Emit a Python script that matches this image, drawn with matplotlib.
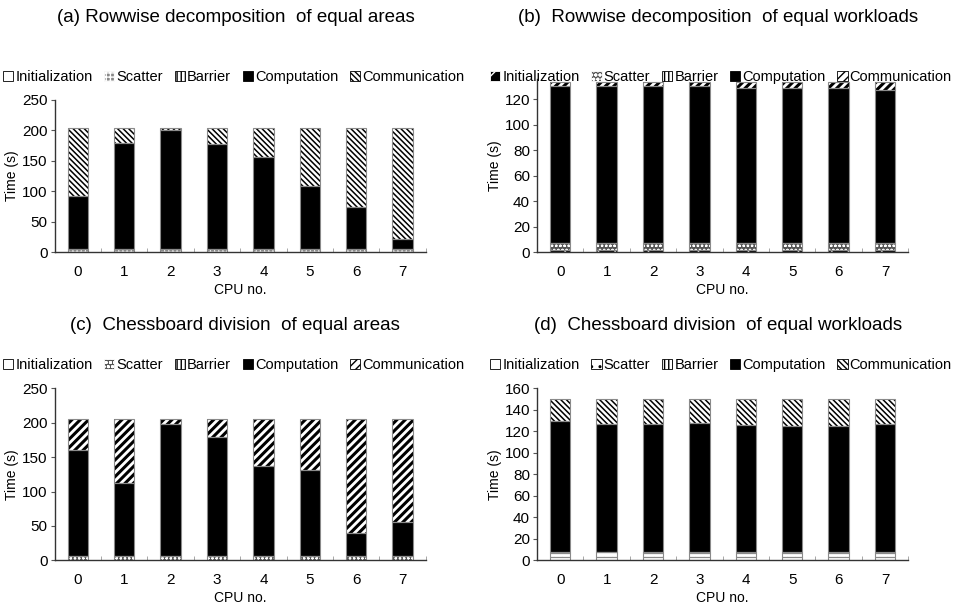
import numpy as np
import matplotlib
import matplotlib.pyplot as plt
from matplotlib.patches import Patch

plt.rcParams["font.family"] = ["Liberation Sans", "DejaVu Sans"]

cpus = [0, 1, 2, 3, 4, 5, 6, 7]
phases = ["Initialization", "Scatter", "Barrier", "Computation", "Communication"]

# (a) rowwise, equal areas
a_init = [0.5, 0.5, 0.5, 0.5, 0.5, 0.5, 0.5, 0.5]
a_scatter = [5, 5, 5, 4.5, 4.5, 4.5, 5, 5]
a_barrier = [0.5, 0.5, 0.5, 0.5, 0.5, 0.5, 0.5, 0.5]
a_comp = [86, 174, 195, 172.5, 151.5, 103.5, 69, 15]
a_comm = [111, 23, 2, 25, 46, 94, 128, 182]

# (b) rowwise, equal workloads
b_init = [1.5, 1.5, 1.5, 1.5, 1.5, 1.5, 1.5, 1.5]
b_scatter = [5.5, 5.5, 5.5, 5.5, 5.5, 5.5, 5.5, 5.5]
b_barrier = [0, 0, 0, 0, 0, 0, 0, 0]
b_comp = [123.5, 123.5, 123.5, 123.5, 122, 122, 122, 120]
b_comm = [2.5, 2.5, 2.5, 2.5, 4, 4, 4, 6]

# (c) chessboard, equal areas
c_init = [0.5, 0.5, 0.5, 0.5, 0.5, 0.5, 0.5, 0.5]
c_scatter = [5, 5, 5, 5, 5, 5, 5, 5]
c_barrier = [0, 0, 0, 0, 0, 0, 0, 0]
c_comp = [154.5, 107.5, 192.5, 174.5, 131.5, 126.5, 33.5, 49.5]
c_comm = [45, 92, 7, 25, 68, 73, 166, 150]

# (d) chessboard, equal workloads
d_init = [3, 3, 3, 3, 3, 3, 3, 3]
d_scatter = [4, 4.5, 4, 4, 4, 4, 4, 4]
d_barrier = [0.5, 0.5, 0.5, 0.5, 0.5, 0.5, 0.5, 0.5]
d_comp = [122.5, 119, 119.5, 120.5, 118.5, 117.5, 117.5, 119]
d_comm = [20, 23, 23, 22, 24, 25, 25, 23.5]

# face, hatch, hatch colour, hatch width for each phase
styles = {
    "a": [("white", None, "black", 0.8), ("#888888", "++++", "white", 0.8),
          ("white", "||||", "black", 1.0), ("black", None, "black", 0.8),
          ("white", "\\\\\\\\\\\\", "black", 1.1)],
    "b": [("black", "//", "white", 0.8), ("#555555", "oooo", "white", 0.6),
          ("white", "||||", "black", 1.0), ("black", None, "black", 0.8),
          ("white", "////", "black", 2.2)],
    "c": [("white", None, "black", 0.8), ("#555555", "oooo", "white", 0.6),
          ("white", "||||", "black", 1.0), ("black", None, "black", 0.8),
          ("white", "////", "black", 2.2)],
    "d": [("white", None, "black", 0.8), ("white", "..", "black", 0.8),
          ("white", "||||", "black", 1.0), ("black", None, "black", 0.8),
          ("white", "\\\\\\\\\\\\", "black", 1.1)],
}

# key, title, data, axes rect, ymax, yticks, legend anchor (figure), x-label row (px)
panels = [
    ("a", "(a) Rowwise decomposition  of equal areas", [a_init, a_scatter, a_barrier, a_comp, a_comm],
     [0.057, 0.583, 0.387, 0.252], 250, [0, 50, 100, 150, 200, 250], (0.0, 1 - 77 / 605), 290),
    ("b", "(b)  Rowwise decomposition  of equal workloads", [b_init, b_scatter, b_barrier, b_comp, b_comm],
     [0.560, 0.583, 0.387, 0.287], 136, [0, 20, 40, 60, 80, 100, 120], (0.508, 1 - 77 / 605), 290),
    ("c", "(c)  Chessboard division  of equal areas", [c_init, c_scatter, c_barrier, c_comp, c_comm],
     [0.057, 0.074, 0.387, 0.284], 250, [0, 50, 100, 150, 200, 250], (0.0, 1 - 365 / 605), 598),
    ("d", "(d)  Chessboard division  of equal workloads", [d_init, d_scatter, d_barrier, d_comp, d_comm],
     [0.560, 0.074, 0.387, 0.284], 160, [0, 20, 40, 60, 80, 100, 120, 140, 160], (0.508, 1 - 365 / 605), 598),
]

fig = plt.figure(figsize=(9.59, 6.05), dpi=100)

for key, title, series, rect, ymax, yticks, leg_xy, xlab_y in panels:
    ax = fig.add_axes(rect)
    x = np.array(cpus)
    bottom = np.zeros(len(cpus))
    handles = []
    for name, vals, (fc, hatch, hc, hlw) in zip(phases, series, styles[key]):
        with matplotlib.rc_context({"hatch.linewidth": hlw}):
            ax.bar(x, vals, 0.44, bottom=bottom, color=fc, edgecolor=hc,
                   linewidth=0, hatch=hatch)
            handles.append(Patch(facecolor=fc, edgecolor=hc, hatch=hatch, linewidth=0.6))
        bottom = bottom + np.array(vals)
    # grey outline around every segment
    bottom = np.zeros(len(cpus))
    for vals in series:
        ax.bar(x, vals, 0.44, bottom=bottom, fill=False, edgecolor="#8a8a8a", linewidth=0.8)
        bottom = bottom + np.array(vals)

    ax.set_xlim(-0.5, 7.5)
    ax.set_ylim(0, ymax)
    ax.set_yticks(yticks)
    ax.set_xticks(x)
    ax.set_xticks(np.arange(-0.5, 8.0, 1.0), minor=True)
    ax.tick_params(axis="x", which="major", length=0, labelsize=11, pad=9)
    ax.tick_params(axis="x", which="minor", length=3, direction="in", color="#999999")
    ax.tick_params(axis="y", length=3, pad=2, labelsize=11, color="#555555")
    for s in ["top", "right"]:
        ax.spines[s].set_visible(False)
    for s in ["left", "bottom"]:
        ax.spines[s].set_color("#333333")
        ax.spines[s].set_linewidth(1.0)
    ax.set_ylabel("Time (s)", fontsize=10, labelpad=2)

    cx = rect[0] + rect[2] / 2
    fig.legend(handles, phases, loc="center left", bbox_to_anchor=leg_xy,
               bbox_transform=fig.transFigure, ncol=5, frameon=False, fontsize=10.5,
               handlelength=0.7, handleheight=0.7, handletextpad=0.15,
               columnspacing=0.8, borderaxespad=0.0, borderpad=0.2)
    fig.text(cx, 1 - xlab_y / 605, "CPU no.", ha="center", va="center", fontsize=10)
    ty = 17 if key in "ab" else 325
    fig.text(cx - 0.005, 1 - ty / 605, title, ha="center", va="center", fontsize=13.5)

fig.savefig("out.png", dpi=100)
